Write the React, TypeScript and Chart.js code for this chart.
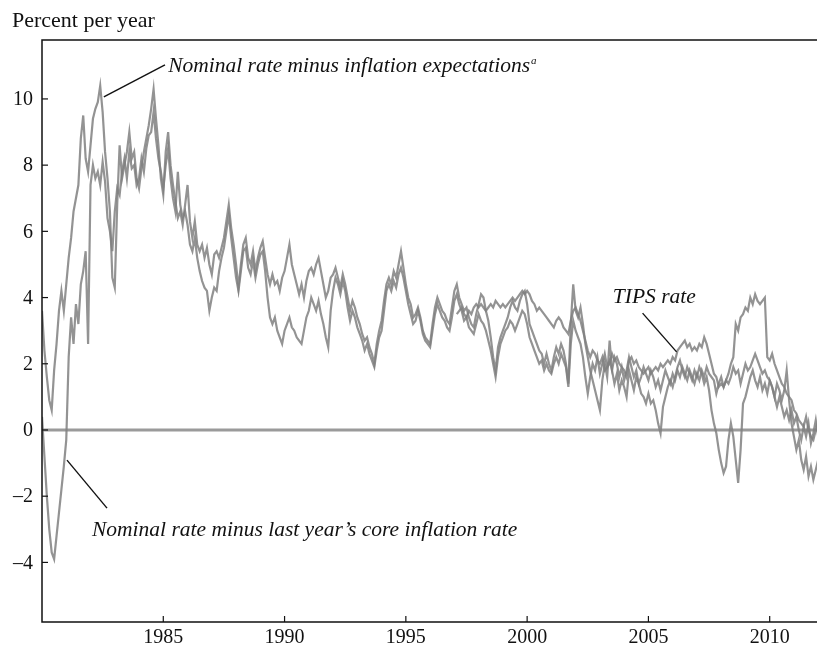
import React, { useEffect, useRef } from 'react';
import { Chart, registerables } from 'chart.js';

Chart.register(...registerables);

// ---- Data (real interest rate measures, percent per year), sampled every 0.1 year ----
const STEP = 0.1;
const START_MAIN = 1980.0;
const START_TIPS = 1997.1;

// Nominal rate minus inflation expectations (1980.0 .. 2012.0)
const expectationsReal = [
  3.6, 2.4, 1.6, 0.9, 0.6, 1.8, 2.6, 3.6, 4.2, 3.6,
  4.4, 5.2, 5.8, 6.6, 7.0, 7.4, 8.8, 9.5, 8.2, 7.8,
  8.6, 9.4, 9.7, 9.9, 10.4, 9.6, 8.4, 7.6, 6.6, 4.6,
  4.3, 6.8, 8.6, 7.6, 8.0, 8.4, 9.0, 8.2, 8.4, 7.6,
  7.3, 7.9, 8.4, 8.8, 9.2, 9.7, 10.3, 9.4, 8.6, 7.6,
  7.1, 8.4, 9.0, 8.0, 7.4, 6.9, 6.4, 6.6, 6.2, 6.8,
  7.4, 6.3, 5.8, 6.3, 5.6, 5.4, 5.6, 5.2, 5.5, 5.0,
  4.7, 5.3, 5.4, 5.2, 5.5, 5.8, 6.3, 6.8, 6.1, 5.6,
  5.0, 4.3, 5.0, 5.6, 5.8, 5.2, 5.0, 5.4, 4.8, 5.2,
  5.5, 5.7, 5.2, 4.7, 4.4, 4.7, 4.4, 4.5, 4.2, 4.6,
  4.8, 5.2, 5.6, 5.0, 4.7, 4.4, 4.1, 4.4, 4.0, 4.5,
  4.8, 4.9, 4.7, 5.0, 5.2, 4.8, 4.4, 4.0, 4.2, 4.6,
  4.7, 4.9, 4.6, 4.3, 4.7, 4.4, 4.0, 3.6, 3.9, 3.7,
  3.4, 3.2, 2.9, 2.7, 2.8, 2.5, 2.3, 2.0, 2.6, 3.0,
  3.3, 3.9, 4.4, 4.6, 4.4, 4.8, 4.6, 5.0, 5.4, 4.9,
  4.4, 4.0, 3.8, 3.4, 3.5, 3.7, 3.4, 3.0, 2.8, 2.7,
  2.6, 3.2, 3.7, 4.0, 3.8, 3.6, 3.5, 3.3, 3.2, 3.7,
  4.2, 4.4, 4.0, 3.8, 3.6, 3.7, 3.4, 3.2, 3.1, 3.5,
  3.8, 4.1, 4.0, 3.6, 3.3, 2.8, 2.2, 1.8, 2.5, 2.8,
  3.0, 3.2, 3.4, 3.7, 3.9, 3.7, 3.6, 3.9, 4.1, 4.2,
  3.8, 3.2, 3.0, 2.8, 2.6, 2.4, 2.3, 2.0, 2.3, 2.0,
  1.8, 2.2, 2.5, 2.3, 2.6, 2.4, 2.0, 1.4, 3.2, 4.4,
  3.6, 3.4, 3.7, 3.2, 2.6, 2.2, 1.8, 1.5, 1.2, 0.9,
  0.6, 1.5, 2.0, 1.6, 2.7, 1.8, 1.4, 1.7, 1.2, 1.5,
  1.3, 1.0, 1.8, 1.5, 1.2, 1.6, 1.4, 1.1, 1.0, 0.8,
  1.1, 0.8, 0.9, 0.6, 0.2, -0.1, 0.7, 1.0, 1.3, 1.5,
  1.3, 1.6, 1.9, 2.1, 1.8, 1.6, 1.9, 1.7, 1.5, 1.8,
  1.6, 1.9, 1.7, 1.4, 1.6, 1.2, 0.6, 0.2, -0.1, -0.6,
  -1.0, -1.3, -1.1, -0.3, 0.2, -0.2, -0.9, -1.6, -0.6, 0.8,
  1.0, 1.3, 1.6, 1.8, 1.5, 1.3, 1.6, 1.2, 1.4, 1.1,
  1.5, 1.3, 1.0, 1.4, 1.2, 0.9, 1.2, 1.8, 0.9, 0.2,
  -0.2, -0.6, -0.3, -0.9, -1.2, -0.8, -1.4, -1.1, -1.5, -1.2,
  -0.9,
];

// Nominal rate minus last year's core inflation rate (1980.0 .. 2012.0)
const coreReal = [
  0.4, -0.8, -2.0, -3.0, -3.7, -3.9, -3.2, -2.5, -1.8, -1.1,
  -0.3, 2.2, 3.4, 2.6, 3.8, 3.2, 4.4, 4.8, 5.4, 2.6,
  7.4, 8.0, 7.6, 7.8, 7.4, 8.1, 7.5, 6.4, 6.0, 5.4,
  6.6, 7.3, 7.1, 7.8, 8.2, 7.6, 8.4, 7.9, 8.0, 7.4,
  7.6, 8.2, 7.8, 8.5, 8.9, 9.0, 9.6, 8.8, 8.2, 7.8,
  7.3, 8.0, 8.5, 7.6, 7.0, 6.6, 7.8, 6.8, 6.4, 6.6,
  6.2, 5.6, 5.4, 5.8, 5.2, 4.8, 4.5, 4.3, 4.2, 3.6,
  4.0, 4.3, 4.2, 4.8, 5.2, 5.5, 6.0, 6.5, 5.8, 5.2,
  4.6, 4.2, 4.8, 5.4, 5.5, 4.9, 4.7, 5.1, 4.6, 5.0,
  5.3, 5.4, 4.8, 4.0, 3.4, 3.2, 3.4, 3.0, 2.8, 2.6,
  3.0, 3.2, 3.4, 3.1, 3.0, 2.8, 2.7, 2.6, 3.0, 3.4,
  3.6, 4.0, 3.8, 3.6, 3.9, 3.5, 3.2, 2.8, 2.5, 3.6,
  4.2, 4.6, 4.4, 4.1, 4.5, 4.2, 3.7, 3.3, 3.6, 3.4,
  3.1, 2.9, 2.7, 2.4, 2.6, 2.3, 2.1, 1.9, 2.4, 2.8,
  3.0, 3.6, 4.2, 4.4, 4.2, 4.5, 4.3, 4.7, 4.9, 4.6,
  4.2, 3.8, 3.5, 3.2, 3.3, 3.6, 3.3, 2.9, 2.7, 2.6,
  2.5, 3.0, 3.5, 3.8, 3.6, 3.4, 3.3, 3.1, 3.0, 3.4,
  3.9, 4.1, 3.8, 3.6, 3.3, 3.4, 3.1, 3.0, 2.9, 3.2,
  3.5, 3.3, 3.2, 3.0, 2.7, 2.4, 2.0, 1.6, 2.2, 2.6,
  2.8, 3.0, 3.1, 3.3, 3.2, 3.0, 3.2, 3.4, 3.6, 3.5,
  3.2, 2.8, 2.6, 2.4, 2.2, 2.0, 2.1, 1.8, 2.0, 1.8,
  1.7, 2.0, 2.2, 2.0, 2.3, 2.1, 1.9, 1.3, 2.6, 3.3,
  3.0, 2.8, 2.6, 2.2, 1.6, 1.1, 1.6, 2.0, 1.8, 2.2,
  1.7, 2.0, 2.3, 1.9, 2.1, 1.8, 2.2, 2.0, 1.6, 1.9,
  1.5, 1.8, 2.2, 1.9, 1.6, 1.8, 1.4, 1.6, 1.9, 1.7,
  1.5, 1.8, 1.6, 1.3, 1.5, 1.2, 1.5, 1.8, 1.6, 1.4,
  1.7, 1.5, 1.8, 1.6, 1.9, 1.7, 1.5, 1.8, 1.6, 1.4,
  1.7, 1.5, 1.8, 1.6, 1.9, 1.7, 1.6, 1.5, 1.1, 1.4,
  1.6, 1.3, 1.5, 1.4, 1.6, 1.9, 1.7, 1.8, 1.4, 1.7,
  2.0, 1.8, 1.9, 2.1, 2.3, 2.1, 1.9, 1.7, 1.8, 1.6,
  1.5, 1.3, 1.0, 0.7, 1.0, 0.7, 0.4, 0.6, 0.3, 0.6,
  0.2, 0.4, 0.0, -0.3, 0.1, -0.2, 0.2, -0.4, -0.1, 0.3,
  -0.2,
];

// TIPS rate (1997.1 .. 2012.0)
const tipsRate = [
  3.5, 3.6, 3.7, 3.5, 3.4, 3.6, 3.5, 3.7, 3.8,
  3.7, 3.8, 3.7, 3.6, 3.7, 3.8, 3.7, 3.9, 3.8, 3.7,
  3.8, 3.7, 3.8, 3.9, 4.0, 3.9, 4.0, 4.1, 4.2, 4.1,
  4.2, 4.1, 3.9, 3.8, 3.6, 3.7, 3.6, 3.5, 3.4, 3.3,
  3.2, 3.1, 3.3, 3.4, 3.3, 3.1, 3.0, 2.9, 3.3, 3.6,
  3.7, 3.5, 3.3, 3.0, 2.7, 2.4, 2.2, 2.4, 2.3, 2.1,
  2.0, 2.2, 1.8, 1.9, 2.0, 2.3, 2.1, 2.2, 2.0, 1.9,
  1.8, 1.6, 2.1, 2.2, 2.0, 2.1, 1.9, 1.8, 1.7, 1.8,
  1.9, 1.7, 1.8, 1.9, 1.8, 2.0, 1.9, 2.0, 2.1, 2.0,
  2.2, 2.1, 2.4, 2.5, 2.6, 2.7, 2.5, 2.6, 2.4, 2.5,
  2.4, 2.6, 2.5, 2.8, 2.6, 2.3, 2.0, 1.7, 1.6, 1.3,
  1.4, 1.3, 1.5, 1.7, 2.0, 2.2, 3.2, 3.0, 3.4, 3.5,
  3.7, 3.6, 4.0, 3.8, 4.1, 3.9, 3.8, 3.9, 4.0, 2.2,
  2.1, 2.3, 2.0, 1.8, 1.6, 1.4, 1.3, 1.1, 1.0, 0.9,
  0.6, 0.5, 0.3, 0.2, 0.1, 0.4, 0.0, -0.2, -0.3, 0.0,
  0.3,
];

const xTicks = [1985, 1990, 1995, 2000, 2005, 2010];
const yTicks = [-4, -2, 0, 2, 4, 6, 8, 10];
const X_MIN = 1980;
const X_MAX = 2011.95;
const Y_MIN = -5.8;
const Y_MAX = 11.78;

const yAxisTitle = 'Percent per year';

// Annotations in data units: text anchor (left, baseline) and leader line
const annotations = [
  { text: 'Nominal rate minus inflation expectations', sup: 'a', tx: 1985.2, ty: 10.8, from: [1985.07, 11.03], to: [1982.55, 10.06] },
  { text: 'TIPS rate', sup: '', tx: 2003.53, ty: 3.84, from: [2004.76, 3.53], to: [2006.16, 2.36] },
  { text: 'Nominal rate minus last year\u2019s core inflation rate', sup: '', tx: 1982.06, ty: -3.2, from: [1982.68, -2.36], to: [1981.03, -0.91] },
];

const SERIF = '"Liberation Serif", "Times New Roman", serif';
const LINE_COLOR = 'rgba(128,128,128,0.85)';

function toPoints(start: number, vals: number[]) {
  return vals.map((v, i) => ({ x: Math.round((start + i * STEP) * 100) / 100, y: v }));
}

const framePlugin = {
  id: 'frame',
  beforeDatasetsDraw(chart: any) {
    const { ctx, chartArea, scales } = chart;
    const y0 = scales.y.getPixelForValue(0);
    ctx.save();
    ctx.strokeStyle = '#9a9a9a';
    ctx.lineWidth = 3;
    ctx.beginPath();
    ctx.moveTo(chartArea.left, y0);
    ctx.lineTo(chartArea.right, y0);
    ctx.stroke();
    ctx.restore();
  },
  afterDraw(chart: any) {
    const { ctx, chartArea, scales } = chart;
    const xs = scales.x;
    const ys = scales.y;
    const { left, right, top, bottom } = chartArea;
    ctx.save();
    // frame lines
    ctx.strokeStyle = '#111';
    ctx.lineWidth = 1.5;
    ctx.beginPath();
    ctx.moveTo(right, top);
    ctx.lineTo(left, top);
    ctx.lineTo(left, bottom);
    ctx.lineTo(right, bottom);
    ctx.stroke();

    // y ticks + labels
    ctx.fillStyle = '#111';
    ctx.font = `20px ${SERIF}`;
    ctx.textAlign = 'right';
    ctx.textBaseline = 'middle';
    ctx.lineWidth = 1.2;
    yTicks.forEach((v) => {
      const py = ys.getPixelForValue(v);
      ctx.beginPath();
      ctx.moveTo(left, py);
      ctx.lineTo(left + 6, py);
      ctx.stroke();
      const label = v < 0 ? '\u2013' + Math.abs(v) : String(v);
      ctx.fillText(label, left - 9, py + 1);
    });

    // x ticks + labels
    ctx.textAlign = 'center';
    ctx.textBaseline = 'alphabetic';
    xTicks.forEach((v) => {
      const px = xs.getPixelForValue(v);
      ctx.beginPath();
      ctx.moveTo(px, bottom);
      ctx.lineTo(px, bottom - 6);
      ctx.stroke();
      ctx.fillText(String(v), px, bottom + 21);
    });

    // axis title
    ctx.textAlign = 'left';
    ctx.font = `22px ${SERIF}`;
    ctx.fillText(yAxisTitle, 12, 27);

    // annotations
    ctx.font = `italic 21.5px ${SERIF}`;
    ctx.lineWidth = 1.4;
    annotations.forEach((a) => {
      const tx = xs.getPixelForValue(a.tx);
      const ty = ys.getPixelForValue(a.ty);
      ctx.fillText(a.text, tx, ty);
      if (a.sup) {
        const w = ctx.measureText(a.text).width;
        ctx.save();
        ctx.font = `italic 11px ${SERIF}`;
        ctx.fillText(a.sup, tx + w + 1, ty - 8);
        ctx.restore();
      }
      ctx.beginPath();
      ctx.moveTo(xs.getPixelForValue(a.from[0]), ys.getPixelForValue(a.from[1]));
      ctx.lineTo(xs.getPixelForValue(a.to[0]), ys.getPixelForValue(a.to[1]));
      ctx.stroke();
    });
    ctx.restore();
  },
};

export default function App() {
  const canvasRef = useRef<HTMLCanvasElement | null>(null);

  useEffect(() => {
    if (!canvasRef.current) return;
    const lineDs = (label: string, data: { x: number; y: number }[]) => ({
      label,
      data,
      borderColor: LINE_COLOR,
      borderWidth: 2.2,
      pointRadius: 0,
      tension: 0,
      fill: false,
    });
    const chart = new Chart(canvasRef.current, {
      type: 'line',
      data: {
        datasets: [
          lineDs('Nominal rate minus inflation expectations', toPoints(START_MAIN, expectationsReal)),
          lineDs("Nominal rate minus last year's core inflation rate", toPoints(START_MAIN, coreReal)),
          lineDs('TIPS rate', toPoints(START_TIPS, tipsRate)),
        ],
      },
      options: {
        responsive: false,
        animation: false,
        layout: { padding: { left: 42, top: 40, right: 0, bottom: 28 } },
        plugins: { legend: { display: false }, tooltip: { enabled: false } },
        scales: {
          x: { type: 'linear', min: X_MIN, max: X_MAX, display: false },
          y: { type: 'linear', min: Y_MIN, max: Y_MAX, display: false },
        },
      },
      plugins: [framePlugin],
    });
    return () => chart.destroy();
  }, []);

  return (
    <div style={{ position: 'absolute', left: 0, top: 0, width: 817, height: 650, background: '#fff' }}>
      <canvas ref={canvasRef} width={817} height={650} style={{ display: 'block' }} />
    </div>
  );
}
